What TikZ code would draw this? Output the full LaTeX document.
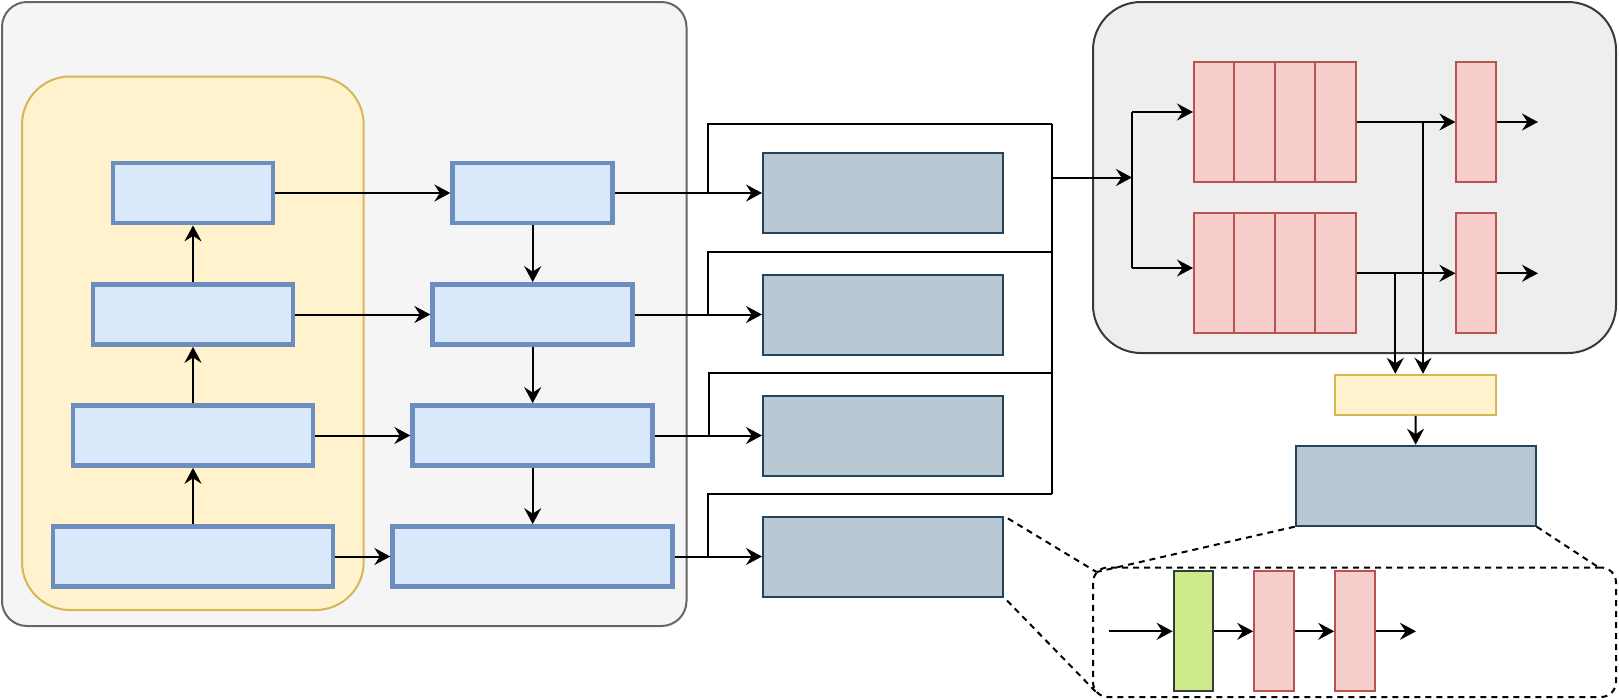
\documentclass[tikz,border=0pt]{standalone}
\usetikzlibrary{arrows.meta,calc}
\definecolor{lbF}{HTML}{F5F5F5}\definecolor{lbS}{HTML}{666666}
\definecolor{ylF}{HTML}{FFF2CC}\definecolor{ylS}{HTML}{D6B656}
\definecolor{buF}{HTML}{DAE8FC}\definecolor{buS}{HTML}{6C8EBF}
\definecolor{gbF}{HTML}{BAC8D3}\definecolor{gbS}{HTML}{23445D}
\definecolor{rbF}{HTML}{EEEEEE}\definecolor{rbS}{HTML}{36393D}
\definecolor{rdF}{HTML}{F8CECC}\definecolor{rdS}{HTML}{B85450}
\definecolor{grF}{HTML}{CDEB8B}\definecolor{grS}{HTML}{36393D}
\begin{document}
\begin{tikzpicture}[x=1pt,y=-1pt,
  conn/.style={line width=2pt,draw=black},
  arr/.style={conn,-{Stealth[length=16pt,width=17pt,inset=5.5pt]}},
  dsh/.style={draw=black,line width=2pt,dash pattern=on 6pt off 5pt},
  blk/.style={draw=buS,fill=buF,line width=4.7pt,minimum height=60pt,inner sep=0pt},
  gb/.style={draw=gbS,fill=gbF,line width=2pt,minimum width=240pt,minimum height=80pt,inner sep=0pt},
  rd/.style={draw=rdS,fill=rdF,line width=2pt,minimum width=40pt,minimum height=120pt,inner sep=0pt},
  cellbox/.style={rd,minimum width=40.4pt}]
\useasboundingbox (0,0) rectangle (1619,699);
% containers
\node[draw=lbS,fill=lbF,line width=2pt,rounded corners=25pt,minimum width=684.5pt,minimum height=624pt,inner sep=0pt] (LB) at (344.25,314) {};
\node[draw=ylS,fill=ylF,line width=2pt,rounded corners=48pt,minimum width=341.7pt,minimum height=533.5pt,inner sep=0pt] (YB) at (192.85,343.25) {};
\node[draw=rbS,fill=rbF,line width=2pt,rounded corners=48pt,minimum width=523pt,minimum height=351pt,inner sep=0pt] (RB) at (1354.5,177.5) {};
% left column
\node[blk,minimum width=160pt] (L4) at (193,193) {};
\node[blk,minimum width=200pt] (L3) at (193,314.5) {};
\node[blk,minimum width=240pt] (L2) at (193,435.5) {};
\node[blk,minimum width=280pt] (L1) at (193,556.5) {};
% right column
\node[blk,minimum width=160pt] (R4) at (532.7,193) {};
\node[blk,minimum width=200pt] (R3) at (532.7,314.5) {};
\node[blk,minimum width=240pt] (R2) at (532.7,435.5) {};
\node[blk,minimum width=280pt] (R1) at (532.7,556.5) {};
% gray boxes
\node[gb] (M4) at (883,193) {};
\node[gb] (M3) at (883,314.5) {};
\node[gb] (M2) at (883,435.5) {};
\node[gb] (M1) at (883,556.5) {};
% arrows left / right columns
\draw[arr] (L1.north) -- (L2.south);
\draw[arr] (L2.north) -- (L3.south);
\draw[arr] (L3.north) -- (L4.south);
\draw[arr] (L4.east) -- (R4.west);
\draw[arr] (L3.east) -- (R3.west);
\draw[arr] (L2.east) -- (R2.west);
\draw[arr] (L1.east) -- (R1.west);
\draw[arr] (R4.south) -- (R3.north);
\draw[arr] (R3.south) -- (R2.north);
\draw[arr] (R2.south) -- (R1.north);
\draw[arr] (R4.east) -- (M4.west);
\draw[arr] (R3.east) -- (M3.west);
\draw[arr] (R2.east) -- (M2.west);
\draw[arr] (R1.east) -- (M1.west);
% brackets
\coordinate (k4) at (708,124);
\coordinate (k3) at (708,251.7);
\coordinate (k2) at (709,372.7);
\coordinate (k1) at (708,493.7);
\coordinate (rt) at (1051.7,124);
\coordinate (rb) at (1051.7,493.7);
\draw[conn] (k4 |- M4.west) -- (k4) -- (k4 -| rt);
\draw[conn] (k3 |- M3.west) -- (k3) -- (k3 -| rt);
\draw[conn] (k2 |- M2.west) -- (k2) -- (k2 -| rt);
\draw[conn] (k1 |- M1.west) -- (k1) -- (k1 -| rt);
\draw[conn] (rt) -- (rb);
% right module
\node[cellbox] (A1) at (1214.2,122) {};
\node[cellbox] (A2) at (1254.6,122) {};
\node[cellbox] (A3) at (1295,122) {};
\node[cellbox] (A4) at (1335.4,122) {};
\node[cellbox] (B1) at (1214.2,273.3) {};
\node[cellbox] (B2) at (1254.6,273.3) {};
\node[cellbox] (B3) at (1295,273.3) {};
\node[cellbox] (B4) at (1335.4,273.3) {};
\node[rd] (S1) at (1476.4,122) {};
\node[rd] (S2) at (1476.4,273.3) {};
\coordinate (o1) at (1051.7,177.5);
\coordinate (sp) at (1132,177.5);
\coordinate (sp1) at (1132,112);
\coordinate (sp2) at (1132,268);
\draw[arr] (o1) -- (sp);
\draw[conn] (sp1) -- (sp2);
\draw[arr] (sp1) -- (A1.west |- sp1);
\draw[arr] (sp2) -- (B1.west |- sp2);
\draw[arr] (A4.east) -- (S1.west);
\draw[arr] (B4.east) -- (S2.west);
\coordinate (e1) at (1538,122);
\coordinate (e2) at (1538,273.3);
\draw[arr] (S1.east) -- (e1);
\draw[arr] (S2.east) -- (e2);
% fusion
\node[draw=ylS,fill=ylF,line width=2pt,minimum width=161pt,minimum height=40pt,inner sep=0pt] (Y) at (1415.5,394.8) {};
\node[gb] (G) at (1415.7,485.7) {};
\coordinate (j1) at (1423,122);
\coordinate (j2) at (1395.3,273.3);
\draw[arr] (j1) -- (j1 |- Y.north);
\draw[arr] (j2) -- (j2 |- Y.north);
\draw[arr] (Y.south) -- (G.north);
% detail box
\node[dsh,rounded corners=15pt,minimum width=523pt,minimum height=129.5pt,inner sep=0pt] (D) at (1354.5,632.25) {};
\node[draw=grS,fill=grF,line width=2pt,minimum width=39.5pt,minimum height=120pt,inner sep=0pt] (GR) at (1193.4,631.3) {};
\node[rd] (D1) at (1274.2,631.3) {};
\node[rd] (D2) at (1355.2,631.3) {};
\coordinate (din) at (1108.6,631.3);
\coordinate (dout) at (1416,631.3);
\draw[arr] (din) -- (GR.west);
\draw[arr] (GR.east) -- (D1.west);
\draw[arr] (D1.east) -- (D2.west);
\draw[arr] (D2.east) -- (dout);
% zoom lines
\coordinate (dtl) at (1096.5,572);
\coordinate (dbl) at (1097,693);
\coordinate (dtr) at (1598,567);
\draw[dsh] ($(M1.north east)+(4,3)$) -- (dtl);
\draw[dsh] ($(M1.south east)+(3,3)$) -- (dbl);
\draw[dsh] (G.south west) -- (dtl);
\draw[dsh] (G.south east) -- (dtr);
\end{tikzpicture}
\end{document}
